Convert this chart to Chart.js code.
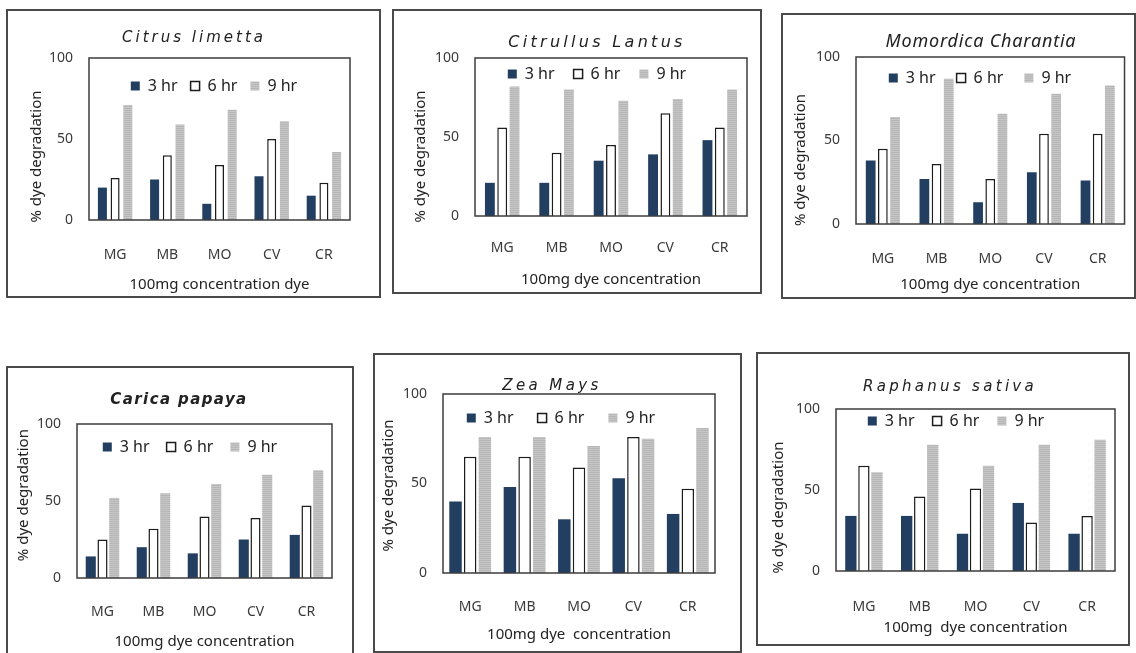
<!DOCTYPE html>
<html>
<head>
<meta charset="utf-8">
<script src="https://cdn.jsdelivr.net/npm/chart.js@4.4.1/dist/chart.umd.min.js"></script>
<style>
  html, body { margin: 0; padding: 0; background: #fff; overflow: hidden; }
  body { width: 1136px; height: 653px; position: relative; }
  .panel { position: absolute; border: 2px solid #4a4a4a; box-sizing: border-box; background: #fff; }
  .panel canvas { position: absolute; left: 0; top: 0; }
</style>
</head>
<body>
<script>
// ===== DATA =====
const categories = ["MG", "MB", "MO", "CV", "CR"];
const seriesLabels = ["3 hr", "6 hr", "9 hr"];
const yTicks = [0, 50, 100];
const plantTitles = ["Citrus limetta", "Citrullus Lantus", "Momordica Charantia", "Carica papaya", "Zea Mays", "Raphanus sativa"];
const xTitles = ["100mg concentration dye", "100mg dye concentration", "100mg dye concentration",
  "100mg dye concentration", "100mg dye  concentration", "100mg  dye concentration"];
const yTitle = "% dye degradation";

const limetta3 = [20, 25, 10, 27, 15];
const limetta6 = [26, 40, 34, 50, 23];
const limetta9 = [71, 59, 68, 61, 42];

const lantus3 = [21, 21, 35, 39, 48];
const lantus6 = [56, 40, 45, 65, 56];
const lantus9 = [82, 80, 73, 74, 80];

const charantia3 = [38, 27, 13, 31, 26];
const charantia6 = [45, 36, 27, 54, 54];
const charantia9 = [64, 87, 66, 78, 83];

const papaya3 = [14, 20, 16, 25, 28];
const papaya6 = [25, 32, 40, 39, 47];
const papaya9 = [52, 55, 61, 67, 70];

const mays3 = [40, 48, 30, 53, 33];
const mays6 = [65, 65, 59, 76, 47];
const mays9 = [76, 76, 71, 75, 81];

const raphanus3 = [34, 34, 23, 42, 23];
const raphanus6 = [65, 46, 51, 30, 34];
const raphanus9 = [61, 78, 65, 78, 81];

const plantSeries = [
  [limetta3, limetta6, limetta9],
  [lantus3, lantus6, lantus9],
  [charantia3, charantia6, charantia9],
  [papaya3, papaya6, papaya9],
  [mays3, mays6, mays9],
  [raphanus3, raphanus6, raphanus9],
];

// ===== LAYOUT (page pixels) =====
const panels = [
  { box: [7, 10, 380, 297], plot: [89, 58, 350, 220], title: [194, 38], tFont: ["DejaVu Sans", 15, "normal", 3],
    legend: [214, 86], lPad: 13, yTitleX: 37, ySpaces: 9, xTickY: 255, xTitleY: 285, cat: 0.73, bar: 0.71 },
  { box: [393, 10, 761, 293], plot: [475, 58, 747, 216], title: [597, 43], tFont: ["DejaVu Sans", 16, "normal", 3.3],
    legend: [597, 74], lPad: 19, yTitleX: 421, ySpaces: 10, xTickY: 248, xTitleY: 280, cat: 0.68, bar: 0.8 },
  { box: [782, 14, 1135, 298], plot: [856, 57, 1128, 224], title: [981, 42], tFont: ["Noto Sans", 18, "normal", 0.8],
    legend: [980, 78], lPad: 21, yTitleX: 801, ySpaces: 10, xTickY: 259, xTitleY: 285, cat: 0.68, bar: 0.8 },
  { box: [7, 367, 353, 656], plot: [77, 424, 332, 578], title: [179, 400], tFont: ["DejaVu Sans", 15, "bold", 1.4],
    legend: [190, 447], lPad: 17, yTitleX: 24, ySpaces: -3, xTickY: 612, xTitleY: 642, cat: 0.69, bar: 0.86 },
  { box: [374, 354, 741, 652], plot: [443, 394, 715, 573], title: [552, 386], tFont: ["DejaVu Sans", 15, "normal", 3.4],
    legend: [561, 418], lPad: 24, yTitleX: 389, ySpaces: 1, xTickY: 607, xTitleY: 635, cat: 0.81, bar: 0.85 },
  { box: [757, 353, 1129, 645], plot: [836, 409, 1115, 571], title: [950, 387], tFont: ["DejaVu Sans", 15, "normal", 3.3],
    legend: [956, 421], lPad: 18, yTitleX: 779, ySpaces: 9, xTickY: 607, xTitleY: 628, cat: 0.7, bar: 0.87 },
];

const TICK_FONT = 14, AXIS_FONT = 15, LEGEND_FONT = 16;
const NAVY = "#223e60";

Chart.defaults.font.family = "'Noto Sans', sans-serif";
Chart.defaults.color = "#333";

// light grey bars have fine horizontal stripes
function stripePattern() {
  const c = document.createElement("canvas");
  c.width = 2; c.height = 2;
  const g = c.getContext("2d");
  g.fillStyle = "#c6c6c6"; g.fillRect(0, 0, 2, 1);
  g.fillStyle = "#b6b6b6"; g.fillRect(0, 1, 2, 1);
  return g.createPattern(c, "repeat");
}
const GREY = stripePattern();

// legend sits inside the plot box, title gets letter spacing, plot box border
const panelBoxes = {
  id: "panelBoxes",
  afterInit(chart, args, o) {
    const lg = chart.legend;
    const fit = lg.fit;
    lg.fit = function () { fit.call(this); this.height = 0; };
    const tb = chart.titleBlock;
    const draw = tb.draw;
    tb.draw = function () {
      this.ctx.save();
      this.ctx.letterSpacing = o.spacing + "px";
      draw.apply(this, arguments);
      this.ctx.restore();
    };
  },
  afterLayout(chart, args, o) {
    const tb = chart.titleBlock, lg = chart.legend;
    const lh = o.titleSize * 1.2;
    tb.top = o.titleY - lh / 2;
    tb.bottom = tb.top + lh;
    let d = o.titleX - (tb.left + tb.right) / 2;
    tb.left += d; tb.right += d;
    lg.top = o.legendY - o.legendPad - LEGEND_FONT / 2;
    lg.height = LEGEND_FONT + 2 * o.legendPad;
    lg.bottom = lg.top + lg.height;
    d = o.legendX - (lg.left + lg.right) / 2;
    lg.left += d; lg.right += d;
  },
  afterDatasetsDraw(chart) {
    const { ctx, chartArea: a } = chart;
    ctx.save();
    ctx.strokeStyle = "#3c3c3c";
    ctx.lineWidth = 1.5;
    ctx.strokeRect(a.left, a.top, a.right - a.left, a.bottom - a.top);
    ctx.restore();
  }
};

function padTitle(text, n) {
  return n >= 0 ? text + " ".repeat(n) : " ".repeat(-n) + text;
}

panels.forEach((p, i) => {
  const div = document.createElement("div");
  div.className = "panel";
  div.style.left = (p.box[0] - 1) + "px";
  div.style.top = (p.box[1] - 1) + "px";
  div.style.width = (p.box[2] - p.box[0] + 2) + "px";
  div.style.height = (p.box[3] - p.box[1] + 2) + "px";
  const canvas = document.createElement("canvas");
  const ox = p.box[0] + 1, oy = p.box[1] + 1;
  const cw = p.box[2] - p.box[0] - 2, ch = p.box[3] - p.box[1] - 2;
  canvas.width = cw; canvas.height = ch;
  div.appendChild(canvas);
  document.body.appendChild(div);

  const pl = p.plot[0] - ox, pt = p.plot[1] - oy, pr = p.plot[2] - ox, pb = p.plot[3] - oy;
  const titleLH = p.tFont[1] * 1.2;
  const axisLH = AXIS_FONT * 1.2, tickLH = TICK_FONT * 1.2;
  const padLeft = (p.yTitleX - ox) - axisLH / 2;
  const yW = pl - padLeft;
  const xH = (p.xTitleY - oy) - pb + axisLH / 2;
  const xTickPad = (p.xTickY - oy) - pb - tickLH / 2;
  const s = plantSeries[i];

  new Chart(canvas, {
    type: "bar",
    data: {
      labels: categories,
      datasets: [
        { label: seriesLabels[0], data: s[0], backgroundColor: NAVY, borderWidth: 0 },
        { label: seriesLabels[1], data: s[1], backgroundColor: "#ffffff", borderColor: "#1c1c1c", borderWidth: 1.5 },
        { label: seriesLabels[2], data: s[2], backgroundColor: GREY, borderWidth: 0 },
      ]
    },
    plugins: [panelBoxes],
    options: {
      responsive: false,
      animation: false,
      events: [],
      categoryPercentage: p.cat,
      barPercentage: p.bar,
      layout: { padding: { left: padLeft, right: cw - pr, top: pt - titleLH, bottom: ch - pb - xH } },
      plugins: {
        tooltip: { enabled: false },
        title: {
          display: true, text: plantTitles[i], color: "#222", padding: 0,
          font: { family: p.tFont[0], size: p.tFont[1], style: "italic", weight: p.tFont[2] }
        },
        legend: {
          position: "top", fullSize: false,
          labels: { boxWidth: 9, boxHeight: 9, padding: p.lPad, color: "#222", font: { size: LEGEND_FONT } }
        },
        panelBoxes: {
          spacing: p.tFont[3], titleSize: p.tFont[1],
          titleX: p.title[0] - ox, titleY: p.title[1] - oy,
          legendX: p.legend[0] - ox, legendY: p.legend[1] - oy, legendPad: p.lPad
        }
      },
      scales: {
        x: {
          grid: { display: false, drawTicks: false },
          border: { display: false },
          ticks: { padding: xTickPad, color: "#3a3a3a", font: { size: TICK_FONT } },
          title: { display: true, text: xTitles[i], padding: 0, color: "#222", font: { size: AXIS_FONT } },
          afterFit: (ax) => { ax.height = xH; }
        },
        y: {
          min: 0, max: 100,
          grid: { display: false, drawTicks: false },
          border: { display: false },
          afterBuildTicks: (ax) => { ax.ticks = yTicks.map(v => ({ value: v })); },
          ticks: { padding: 16, color: "#3a3a3a", font: { size: TICK_FONT } },
          title: { display: true, text: padTitle(yTitle, p.ySpaces), padding: 0, color: "#222", font: { size: AXIS_FONT } },
          afterFit: (ax) => { ax.width = yW; }
        }
      }
    }
  });
});
</script>
</body>
</html>
